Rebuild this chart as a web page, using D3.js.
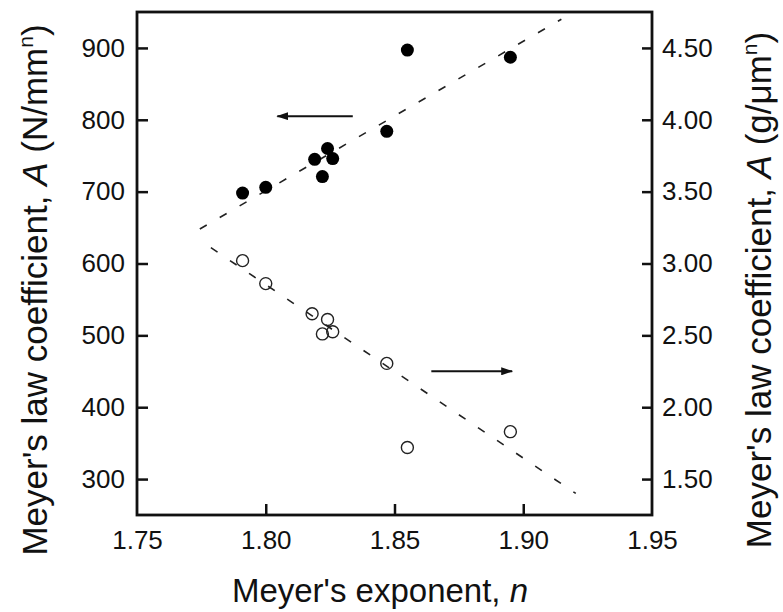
<!DOCTYPE html>
<html>
<head>
<meta charset="utf-8">
<script src="https://cdn.jsdelivr.net/npm/d3@7"></script>
<style>
  html, body { margin: 0; padding: 0; background: #fff; }
  text { font-family: "Liberation Sans", Arial, Helvetica, sans-serif; fill: #111; }
</style>
</head>
<body>
<svg id="chart" width="783" height="612"></svg>
<script>
// ---- data ----
const nFilled = [1.791, 1.800, 1.819, 1.822, 1.824, 1.826, 1.847, 1.855, 1.895];
const aFilled = [698, 706, 745, 721, 760, 746, 784, 897, 887];          // N/mm^n (left axis)
const nOpen   = [1.791, 1.800, 1.818, 1.824, 1.822, 1.826, 1.847, 1.855, 1.895];
const aOpen   = [3.02, 2.86, 2.65, 2.61, 2.51, 2.525, 2.305, 1.72, 1.83]; // g/um^n (right axis)
const fitFilledN = [1.7744, 1.9148];
const fitFilledA = [648, 940];
const fitOpenN = [1.7787, 1.9204];
const fitOpenA = [3.11, 1.40];
const xTicks = [1.75, 1.80, 1.85, 1.90, 1.95];
const yLeftTicks = [300, 400, 500, 600, 700, 800, 900];
const yRightTicks = [1.50, 2.00, 2.50, 3.00, 3.50, 4.00, 4.50];
const arrowLeftN = [1.8338, 1.8045], arrowLeftA = 805;
const arrowRightN = [1.8643, 1.8957], arrowRightA = 2.25;

// ---- layout ----
const svg = d3.select("#chart");
const L = 137, R = 652, T = 12, B = 515;
const x = d3.scaleLinear().domain([1.75, 1.95]).range([L, R]);
const yL = d3.scaleLinear().domain([250, 950]).range([B, T]);
const yR = d3.scaleLinear().domain([1.25, 4.75]).range([B, T]);

const tickFont = 26;

// axes
const gx = svg.append("g").attr("transform", `translate(0,${B})`)
  .call(d3.axisBottom(x).tickValues(xTicks).tickFormat(d3.format(".2f"))
    .tickSizeInner(-11).tickSizeOuter(0).tickPadding(16));
const gyl = svg.append("g").attr("transform", `translate(${L},0)`)
  .call(d3.axisLeft(yL).tickValues(yLeftTicks).tickFormat(d3.format("d"))
    .tickSizeInner(-11).tickSizeOuter(0).tickPadding(12));
const gyr = svg.append("g").attr("transform", `translate(${R},0)`)
  .call(d3.axisRight(yR).tickValues(yRightTicks).tickFormat(d3.format(".2f"))
    .tickSizeInner(-10).tickSizeOuter(0).tickPadding(10));

[gx, gyl, gyr].forEach(g => {
  g.select(".domain").remove();
  g.selectAll(".tick line").attr("stroke", "#111").attr("stroke-width", 2.5);
  g.selectAll(".tick text").attr("font-size", tickFont).attr("fill", "#111")
    .style("font-family", '"Liberation Sans", Arial, sans-serif');
});
gx.selectAll(".tick").filter(d => d === 1.75 || d === 1.95).select("line").remove();

// frame
svg.append("rect").attr("x", L).attr("y", T).attr("width", R - L).attr("height", B - T)
  .attr("fill", "none").attr("stroke", "#111").attr("stroke-width", 2.8);

// fit lines
const dash = "8,15";
svg.append("line")
  .attr("x1", x(fitFilledN[0])).attr("y1", yL(fitFilledA[0]))
  .attr("x2", x(fitFilledN[1])).attr("y2", yL(fitFilledA[1]))
  .attr("stroke", "#222").attr("stroke-width", 1.6).attr("stroke-dasharray", dash);
svg.append("line")
  .attr("x1", x(fitOpenN[0])).attr("y1", yR(fitOpenA[0]))
  .attr("x2", x(fitOpenN[1])).attr("y2", yR(fitOpenA[1]))
  .attr("stroke", "#222").attr("stroke-width", 1.6).attr("stroke-dasharray", dash);

// points
svg.append("g").selectAll("circle").data(nFilled.map((n, i) => [n, aFilled[i]]))
  .join("circle").attr("cx", d => x(d[0])).attr("cy", d => yL(d[1])).attr("r", 6.5)
  .attr("fill", "#000");
svg.append("g").selectAll("circle").data(nOpen.map((n, i) => [n, aOpen[i]]))
  .join("circle").attr("cx", d => x(d[0])).attr("cy", d => yR(d[1])).attr("r", 6)
  .attr("fill", "none").attr("stroke", "#222").attr("stroke-width", 1.4);

// arrows
const defs = svg.append("defs");
defs.append("marker").attr("id", "ah").attr("viewBox", "0 0 12 8")
  .attr("refX", 11).attr("refY", 4).attr("markerWidth", 12).attr("markerHeight", 8)
  .attr("markerUnits", "userSpaceOnUse").attr("orient", "auto")
  .append("path").attr("d", "M0,0 L12,4 L0,8 Z").attr("fill", "#111");
svg.append("line")
  .attr("x1", x(arrowLeftN[0])).attr("y1", yL(arrowLeftA))
  .attr("x2", x(arrowLeftN[1])).attr("y2", yL(arrowLeftA))
  .attr("stroke", "#111").attr("stroke-width", 2).attr("marker-end", "url(#ah)");
svg.append("line")
  .attr("x1", x(arrowRightN[0])).attr("y1", yR(arrowRightA))
  .attr("x2", x(arrowRightN[1])).attr("y2", yR(arrowRightA))
  .attr("stroke", "#111").attr("stroke-width", 2).attr("marker-end", "url(#ah)");

// titles
const xt = svg.append("text").attr("x", 380).attr("y", 602)
  .attr("text-anchor", "middle").attr("font-size", 33);
xt.append("tspan").text("Meyer's exponent, ");
xt.append("tspan").attr("font-style", "italic").text("n");

function yTitle(xpos, unit) {
  const t = svg.append("text")
    .attr("transform", `translate(${xpos},290) rotate(-90)`)
    .attr("text-anchor", "middle").attr("font-size", 35);
  t.append("tspan").text("Meyer's law coefficient, ");
  t.append("tspan").attr("font-style", "italic").text("A");
  t.append("tspan").text(" (" + unit);
  t.append("tspan").attr("font-size", 21).attr("dy", -14).text("n");
  t.append("tspan").attr("dy", 14).text(")");
}
yTitle(47, "N/mm");
yTitle(771, "g/\u03bcm");
</script>
</body>
</html>
